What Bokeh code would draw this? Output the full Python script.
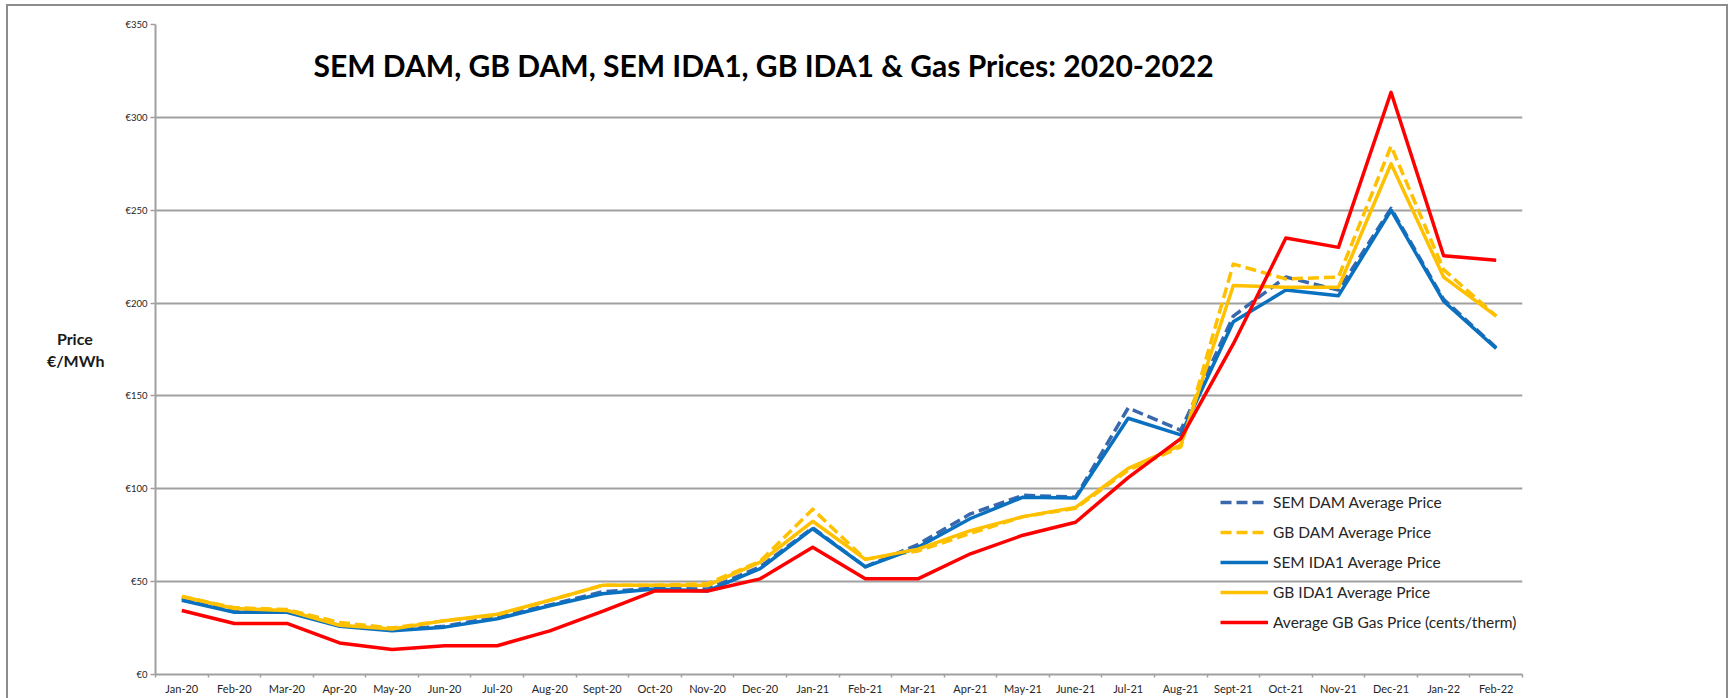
from bokeh.plotting import figure
from bokeh.models import Range1d, FixedTicker, Label, Legend, LegendItem
from bokeh.embed import file_html
from bokeh.resources import INLINE

months = ["Jan-20", "Feb-20", "Mar-20", "Apr-20", "May-20", "Jun-20", "Jul-20", "Aug-20",
          "Sept-20", "Oct-20", "Nov-20", "Dec-20", "Jan-21", "Feb-21", "Mar-21", "Apr-21",
          "May-21", "June-21", "Jul-21", "Aug-21", "Sept-21", "Oct-21", "Nov-21", "Dec-21",
          "Jan-22", "Feb-22"]

sem_dam = [41, 34.5, 34.5, 27.5, 24, 26, 31, 37.5, 44.5, 46.5, 46, 58, 79, 58, 70, 86.5,
           96.5, 95.5, 143.5, 131.5, 193, 214, 207, 251, 202, 176]
gb_dam = [42, 36, 35, 28, 25, 29, 32, 40, 48, 48, 49, 61, 89, 62, 66.5, 76,
          85, 89.5, 110, 122.5, 221, 213, 214, 284.5, 218, 193]
sem_ida1 = [40, 33.5, 33.5, 26, 23.5, 25.5, 30, 37, 43.5, 46, 45, 57, 78.5, 58, 68.5, 84,
            95.5, 95, 138, 129, 190, 207, 204, 250, 201, 175.5]
gb_ida1 = [42, 35.5, 34.5, 26.5, 24.5, 29, 32.5, 40, 48, 48, 48, 60.5, 82.5, 62, 67.5, 77.5,
           85, 90, 111, 123.5, 209.5, 208.5, 208.5, 275, 214, 193]
gas = [34.5, 27.5, 27.5, 17, 13.5, 15.5, 15.5, 23.5, 34, 45, 45, 51.5, 68.5, 51.5, 51.5, 65,
       75, 82, 106, 127, 178, 235, 230, 313.5, 225.5, 223]

y_ticks = [0, 50, 100, 150, 200, 250, 300, 350]
y_tick_labels = ["€0", "€50", "€100", "€150", "€200", "€250", "€300", "€350"]

series_names = ["SEM DAM Average Price", "GB DAM Average Price", "SEM IDA1 Average Price",
                "GB IDA1 Average Price", "Average GB Gas Price (cents/therm)"]

title_text = "SEM DAM, GB DAM, SEM IDA1, GB IDA1 & Gas Prices: 2020-2022"
y_title_lines = ["Price", "€/MWh"]

FONT = "Lato"
GRID = "#a0a0a0"
FRAME = "#8c8c8c"

n = len(months)
xs = [i + 0.5 for i in range(n)]

p = figure(width=1733, height=698, output_backend="svg", toolbar_location=None,
           x_range=Range1d(0, n), y_range=Range1d(0, 350),
           min_border_left=155, min_border_right=211, min_border_top=24, min_border_bottom=24)
p.outline_line_color = None
p.background_fill_color = "white"
p.border_fill_alpha = 0
g = f"linear-gradient({FRAME},{FRAME})"
p.styles = {
    "background": (f"{g} 6px 4px / 2px 100% no-repeat, "
                   f"{g} 6px 4px / 1722px 2px no-repeat, "
                   f"{g} 1726px 4px / 2px 100% no-repeat, white"),
}

# x axis: labels at category centres, ticks between categories
p.xaxis.ticker = FixedTicker(ticks=xs, minor_ticks=list(range(n + 1)))
p.xaxis.major_label_overrides = {x: m for x, m in zip(xs, months)}
p.xaxis.major_tick_line_color = None
p.xaxis.major_tick_out = 0
p.xaxis.major_tick_in = 0
p.xaxis.minor_tick_line_color = GRID
p.xaxis.minor_tick_line_width = 1.5
p.xaxis.minor_tick_out = 3
p.xaxis.minor_tick_in = 0
p.xaxis.axis_line_color = GRID
p.xaxis.axis_line_width = 2
p.xaxis.major_label_text_font = FONT
p.xaxis.major_label_text_font_size = "11px"
p.xaxis.major_label_text_color = "#262626"
p.xaxis.major_label_standoff = 4

# y axis
p.yaxis.ticker = FixedTicker(ticks=y_ticks, minor_ticks=[])
p.yaxis.major_label_overrides = {t: l for t, l in zip(y_ticks, y_tick_labels)}
p.yaxis.major_tick_line_color = GRID
p.yaxis.major_tick_line_width = 1.5
p.yaxis.major_tick_out = 5
p.yaxis.major_tick_in = 0
p.yaxis.axis_line_color = GRID
p.yaxis.axis_line_width = 2
p.yaxis.major_label_text_font = FONT
p.yaxis.major_label_text_font_size = "9.5px"
p.yaxis.major_label_text_color = "#262626"
p.yaxis.major_label_standoff = 3

# first line padded with no-break spaces so both lines share a centre
p.yaxis.axis_label = y_title_lines[0] + "\u00a0\u00a0\u00a0" + "\n" + y_title_lines[1]
p.yaxis.axis_label_text_font = FONT
p.yaxis.axis_label_text_font_style = "bold"
p.yaxis.axis_label_text_font_size = "16px"
p.yaxis.axis_label_text_color = "#1a1a1a"
p.yaxis.axis_label_standoff = 18
try:
    p.yaxis.axis_label_orientation = "horizontal"
except Exception:
    pass

p.xgrid.grid_line_color = None
p.ygrid.grid_line_color = GRID
p.ygrid.grid_line_width = 2

lw = 3.5
r1 = p.line(xs, sem_dam, line_color="#3a68ad", line_width=lw, line_dash="11 5", line_join="round")
r2 = p.line(xs, gb_dam, line_color="#ffc000", line_width=lw, line_dash="11 5", line_join="round")
r3 = p.line(xs, sem_ida1, line_color="#0a70c0", line_width=lw, line_join="round")
r4 = p.line(xs, gb_ida1, line_color="#ffc000", line_width=lw, line_join="round")
r5 = p.line(xs, gas, line_color="#ff0000", line_width=lw, line_join="round")

legend = Legend(items=[LegendItem(label=nm, renderers=[r]) for nm, r in
                       zip(series_names, [r1, r2, r3, r4, r5])],
                location=(1065, 42), orientation="vertical",
                background_fill_alpha=0, border_line_color=None,
                padding=0, margin=0, spacing=10,
                glyph_width=48, glyph_height=20, label_height=20,
                label_standoff=5, label_text_font=FONT, label_text_font_size="15.5px",
                label_text_color="#262626")
p.add_layout(legend)

p.add_layout(Label(x=158, y=610, x_units="screen", y_units="screen", text=title_text,
                   text_font=FONT, text_font_style="bold", text_font_size="30px",
                   text_align="left", text_baseline="middle", text_color="black"))

open("out.html", "w").write(file_html(p, INLINE))
